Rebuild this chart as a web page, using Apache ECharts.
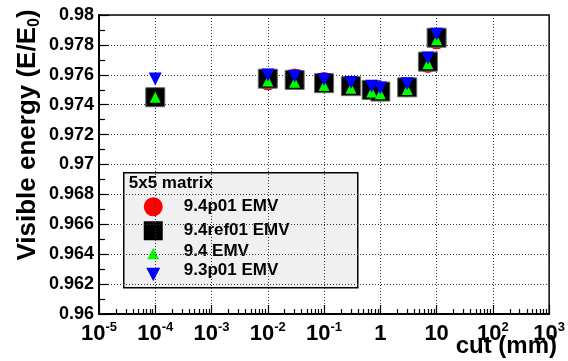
<!DOCTYPE html>
<html>
<head>
<meta charset="utf-8">
<script src="https://cdn.jsdelivr.net/npm/echarts@6/dist/echarts.min.js"></script>
<style>
  html, body { margin: 0; padding: 0; background: #fff; }
  #chart { width: 568px; height: 361px; }
</style>
</head>
<body>
<div id="chart"></div>
<script>
// Visible energy fraction versus production cut, 5x5 crystal matrix
const cutValues   = [1e-4, 0.01, 0.03, 0.1, 0.3, 0.7, 1, 3, 7, 10];
const emv94p01    = [0.9745, 0.97560, 0.97578, 0.97556, 0.97526, 0.97497, 0.97486, 0.97514, 0.97675, 0.97835];
const emv94ref01  = [0.9745, 0.97574, 0.97566, 0.97544, 0.97524, 0.97499, 0.97488, 0.97516, 0.97688, 0.97848];
const emv94       = [0.9745, 0.97558, 0.97551, 0.97529, 0.97510, 0.97485, 0.97474, 0.97502, 0.97674, 0.97834];
const emv93p01    = [0.97572, 0.97598, 0.97590, 0.97568, 0.97548, 0.97523, 0.97512, 0.97540, 0.97712, 0.97872];

const seriesNames = ['9.4p01 EMV', '9.4ref01 EMV', '9.4 EMV', '9.3p01 EMV'];
const legendTitle = '5x5 matrix';
const xTitle = 'cut (mm)';

// axis ranges and ticks
const yMin = 0.96, yMax = 0.98, yStep = 0.002;
const xDecadeExponents = [-5, -4, -3, -2, -1, 0, 1, 2, 3];
const xMinorMantissas = [2, 3, 4, 5, 6, 7, 8, 9];

const FONT = 'Liberation Sans, Arial, Helvetica, sans-serif';

const xMin = Math.pow(10, xDecadeExponents[0]);
const xMax = Math.pow(10, xDecadeExponents[xDecadeExponents.length - 1]);
const xMinorTicks = [];
xDecadeExponents.slice(0, -1).forEach(e => {
  xMinorMantissas.forEach(m => xMinorTicks.push(m * Math.pow(10, e)));
});

function pairs(ys) { return cutValues.map((x, i) => [x, ys[i]]); }

function xLabel(v) {
  const e = Math.round(Math.log10(v));
  if (e === 0) return '{b|1}';
  if (e === 1) return '{b|10}';
  return '{b|10}{s|' + e + '}';
}

const chart = echarts.init(document.getElementById('chart'), null, { renderer: 'canvas' });

const grid = { left: 99, right: 11, top: 15, bottom: 47 };

const option = {
  animation: false,
  backgroundColor: '#fff',
  grid: {
    left: grid.left, right: grid.right, top: grid.top, bottom: grid.bottom,
    show: true, borderColor: '#000', borderWidth: 1.5, backgroundColor: '#fff'
  },
  xAxis: [
    {
      type: 'log', logBase: 10, min: xMin, max: xMax, splitNumber: 8,
      axisLine: { show: true, onZero: false, lineStyle: { color: '#000', width: 2 } },
      axisTick: { show: true, inside: true, length: 9, lineStyle: { color: '#000', width: 1.2 } },
      minorTick: { show: false },
      splitLine: { show: true, lineStyle: { color: '#333', width: 1, type: [1, 2] } },
      axisLabel: {
        interval: 0, margin: 7, formatter: xLabel,
        rich: {
          b: { fontFamily: FONT, fontSize: 22, fontWeight: 'bold', color: '#000', lineHeight: 26 },
          s: { fontFamily: FONT, fontSize: 13, fontWeight: 'bold', color: '#000', lineHeight: 12, verticalAlign: 'top' }
        }
      }
    },
    {
      type: 'log', logBase: 10, min: xMin, max: xMax, position: 'bottom', gridIndex: 0,
      axisLine: { show: false },
      axisLabel: { show: false },
      splitLine: { show: false },
      axisTick: { show: true, inside: true, length: 5, customValues: xMinorTicks, lineStyle: { color: '#000', width: 1.2 } }
    }
  ],
  yAxis: {
    type: 'value', min: yMin, max: yMax, interval: yStep,
    axisLine: { show: true, lineStyle: { color: '#000', width: 2 } },
    axisTick: { show: true, inside: true, length: 10, lineStyle: { color: '#000', width: 1.2 } },
    minorTick: { show: true, splitNumber: 2, length: 6, lineStyle: { color: '#000', width: 1.2 } },
    splitLine: { show: true, lineStyle: { color: '#333', width: 1, type: [1, 2] } },
    axisLabel: {
      margin: 5, fontFamily: FONT, fontSize: 18, fontWeight: 'bold', color: '#000',
      formatter: v => String(+v.toFixed(3))
    }
  },
  series: [
    {
      name: seriesNames[0], type: 'scatter', data: pairs(emv94p01),
      symbol: 'circle', symbolSize: 19, itemStyle: { color: '#ff0000', opacity: 1 }
    },
    {
      name: seriesNames[1], type: 'scatter', data: pairs(emv94ref01),
      symbol: 'rect', symbolSize: 19, itemStyle: { color: '#000', borderColor: '#666', borderWidth: 1, opacity: 1 }
    },
    {
      name: seriesNames[2], type: 'scatter', data: pairs(emv94),
      symbol: 'triangle', symbolSize: 11, itemStyle: { color: '#00ff00', opacity: 1 }
    },
    {
      name: seriesNames[3], type: 'scatter', data: pairs(emv93p01),
      symbol: 'triangle', symbolRotate: 180, symbolSize: 13, itemStyle: { color: '#0000ff', opacity: 1 }
    }
  ],
  graphic: [
    // y-axis title
    {
      type: 'text', x: 28, y: 135, rotation: Math.PI / 2,
      style: {
        text: '{m|Visible energy (E/E}{sub|0}{m|)}',
        align: 'center', verticalAlign: 'middle',
        rich: {
          m: { fontFamily: FONT, fontSize: 26, fontWeight: 'bold', fill: '#000', lineHeight: 30 },
          sub: { fontFamily: FONT, fontSize: 16, fontWeight: 'bold', fill: '#000', lineHeight: 16, verticalAlign: 'bottom' }
        }
      }
    },
    // x-axis title
    {
      type: 'text', x: 557, y: 346,
      style: {
        text: xTitle, align: 'right', verticalAlign: 'middle',
        font: 'bold 24px ' + FONT, fill: '#000'
      }
    },
    // legend box
    {
      type: 'group', left: 123, top: 172,
      children: [
        { type: 'rect', shape: { x: 0, y: 0, width: 234, height: 115 },
          style: { fill: '#f0f0f0', stroke: '#000', lineWidth: 1.5 } },
        { type: 'text', x: 5, y: 11,
          style: { text: legendTitle, font: 'bold 17px ' + FONT, fill: '#000', verticalAlign: 'middle' } },
        { type: 'circle', shape: { cx: 29.5, cy: 34, r: 9.5 }, style: { fill: '#ff0000' } },
        { type: 'rect', shape: { x: 20, y: 48.5, width: 19, height: 19 }, style: { fill: '#000' } },
        { type: 'polygon', shape: { points: [[29.5, 75], [35.5, 86.5], [23.5, 86.5]] }, style: { fill: '#00ff00' } },
        { type: 'polygon', shape: { points: [[22.5, 95], [36.5, 95], [29.5, 108.5]] }, style: { fill: '#0000ff' } },
        { type: 'text', x: 60, y: 34,
          style: { text: seriesNames[0], font: 'bold 17px ' + FONT, fill: '#000', verticalAlign: 'middle' } },
        { type: 'text', x: 60, y: 58,
          style: { text: seriesNames[1], font: 'bold 17px ' + FONT, fill: '#000', verticalAlign: 'middle' } },
        { type: 'text', x: 60, y: 79,
          style: { text: seriesNames[2], font: 'bold 17px ' + FONT, fill: '#000', verticalAlign: 'middle' } },
        { type: 'text', x: 60, y: 98,
          style: { text: seriesNames[3], font: 'bold 17px ' + FONT, fill: '#000', verticalAlign: 'middle' } }
      ]
    }
  ]
};

chart.setOption(option);
</script>
</body>
</html>
